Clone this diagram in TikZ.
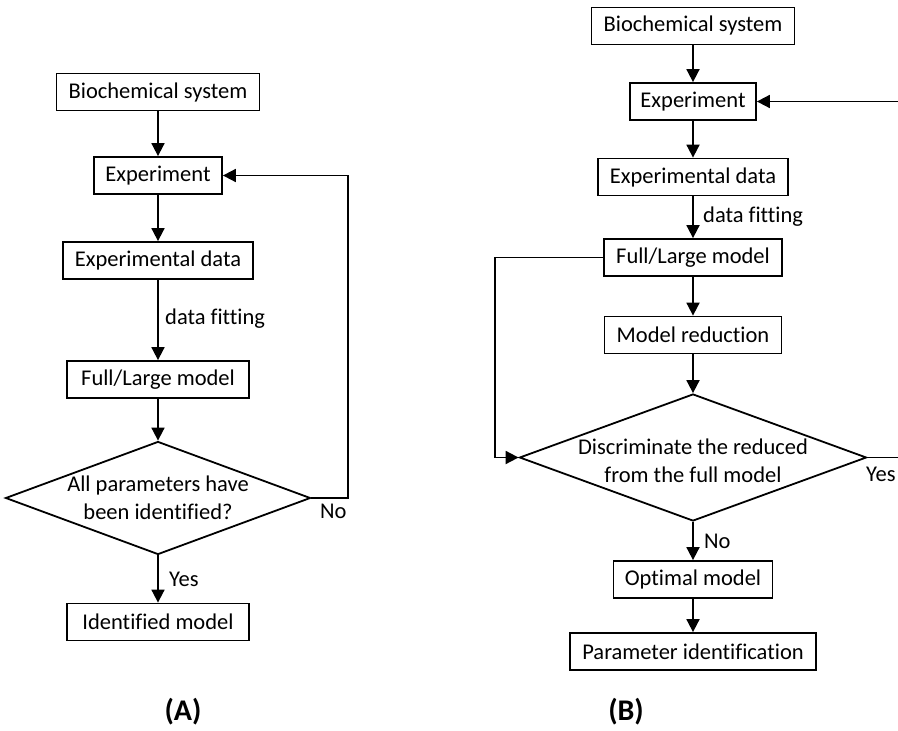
\documentclass[tikz,border=0pt]{standalone}
\usepackage{fontspec}
\setmainfont{Carlito}[Ligatures=NoCommon]
\usetikzlibrary{arrows.meta,shapes.geometric}
\begin{document}
\begin{tikzpicture}[x=1pt,y=-1pt,
  font=\fontsize{22.5}{28}\selectfont,
  box/.style={draw,line width=1.8pt,minimum height=37pt,inner xsep=4pt,inner ysep=2pt},
  dia/.style={draw,diamond,line width=1.8pt,inner sep=0pt},
  arr/.style={line width=1.8pt,-{Triangle[width=13pt,length=13pt]}},
  conn/.style={line width=1.8pt},
  lbl/.style={inner sep=0pt,anchor=west},
  panel/.style={font=\fontsize{30}{36}\selectfont\bfseries}]
\useasboundingbox (0,0) rectangle (898,731);

% ---------- (A) identification loop ----------
\node[box,minimum width=203pt] (bioA)   at (158,92)    {Biochemical system};
\node[box,minimum width=128pt] (expA)   at (158,175.5) {Experiment};
\node[box,minimum width=190pt] (dataA)  at (158,260.5) {Experimental data};
\node[box,minimum width=182pt] (fullA)  at (158,379.5) {Full/Large model};
\node[dia,minimum width=305pt,minimum height=113pt,
      label={[align=center]center:All parameters have\\been identified?}] (decA) at (158,498) {};
\node[box,minimum width=182pt] (identA) at (158,622)   {Identified model};
\coordinate (loopA) at (348,498);

\draw[arr] (bioA) -- (expA);
\draw[arr] (expA) -- (dataA);
\draw[arr] (dataA) -- (fullA);
\draw[arr] (fullA) -- (decA.north);
\draw[arr] (decA.south) -- (identA);
\draw[arr] (decA.east) -- (loopA) |- (expA.east);

\node[lbl] (fitA) at (165,319) {data fitting};
\node[lbl] (noA)  at (320,511) {No};
\node[lbl] (yesA) at (169,579) {Yes};
\node[panel] (capA) at (183,712) {(A)};

% ---------- (B) reduction loop ----------
\node[box,minimum width=203pt] (bioB)   at (693,26)    {Biochemical system};
\node[box,minimum width=126pt] (expB)   at (693,101.5) {Experiment};
\node[box,minimum width=190pt] (dataB)  at (693,177)   {Experimental data};
\node[box,minimum width=178pt] (fullB)  at (693,257.5) {Full/Large model};
\node[box,minimum width=177pt] (redB)   at (693,335)   {Model reduction};
\node[dia,minimum width=347pt,minimum height=127pt,
      label={[align=center,yshift=-3pt]center:Discriminate the reduced\\from the full model}] (decB) at (693,457.5) {};
\node[box,minimum width=159pt] (optB)   at (693,579.5) {Optimal model};
\node[box,minimum width=246pt] (parB)   at (693,651.5) {Parameter identification};
\coordinate (loopB) at (495,350);
\coordinate (edgeYes) at (898,457.5);
\coordinate (edgeExp) at (898,101.5);

\draw[arr] (bioB) -- (expB);
\draw[arr] (expB) -- (dataB);
\draw[arr] (dataB) -- (fullB);
\draw[arr] (fullB) -- (redB);
\draw[arr] (redB) -- (decB.north);
\draw[arr] (decB.south) -- (optB);
\draw[arr] (optB) -- (parB);
\draw[arr] (fullB.west) -| (loopB) |- (decB.west);
\draw[conn] (decB.east) -- (edgeYes);
\draw[arr] (edgeExp) -- (expB.east);

\node[lbl] (fitB) at (703,217) {data fitting};
\node[lbl] (noB)  at (704,541) {No};
\node[lbl] (yesB) at (866,474) {Yes};
\node[panel] (capB) at (626,712) {(B)};
\end{tikzpicture}
\end{document}
